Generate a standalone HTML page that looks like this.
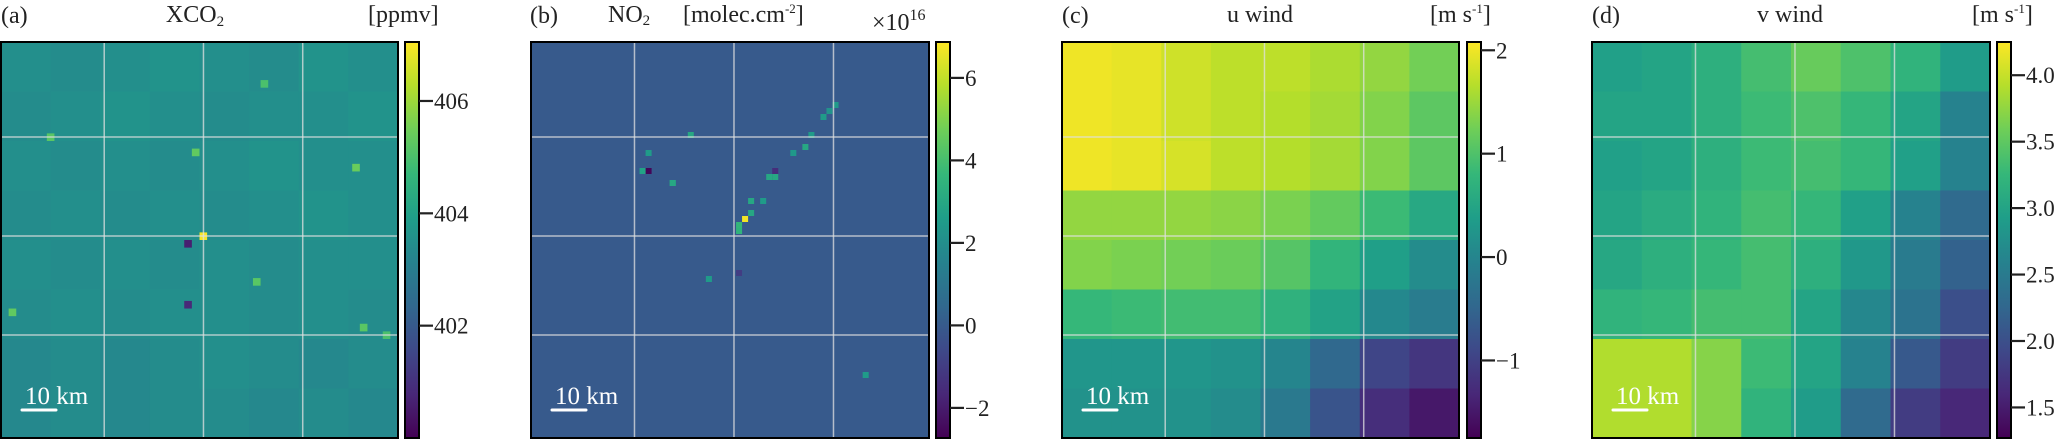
<!DOCTYPE html>
<html><head><meta charset="utf-8">
<style>
html,body{margin:0;padding:0;background:#fff;}
svg{display:block;font-family:"Liberation Serif",serif;}
</style></head>
<body>
<svg id="fig" width="2067" height="440" viewBox="0 0 2067 440" xmlns="http://www.w3.org/2000/svg"></svg>
<script>
// ---------- data ----------
const xco2Blocks = [
 [403.5,403.4,403.5,403.6,403.5,403.4,403.6,403.5],
 [403.4,403.5,403.6,403.5,403.4,403.5,403.5,403.6],
 [403.5,403.4,403.5,403.4,403.5,403.6,403.5,403.5],
 [403.4,403.5,403.4,403.5,403.4,403.5,403.6,403.5],
 [403.5,403.4,403.5,403.4,403.5,403.4,403.5,403.5],
 [403.4,403.5,403.4,403.5,403.5,403.4,403.5,403.4],
 [403.3,403.4,403.3,403.4,403.5,403.4,403.3,403.4],
 [403.3,403.4,403.3,403.4,403.4,403.3,403.4,403.3]
];
const xco2HotRows = [25,14,12,5,26,31,38,34,35,16,37];
const xco2HotCols = [26,25,6,34,24,33,50,24,1,46,47];
const xco2HotVals = [407.0,405.3,405.2,405.0,400.6,405.2,405.0,400.8,405.3,405.4,405.2];
const xco2Range = [400.0, 407.05];
const xco2Ticks = [402, 404, 406];

const no2Background = 0.0;
const no2Rows = [29,31,30,28,26,26,22,22,18,17,15,12,11,10,21,21,23,23,15,39,21,55,18,38];
const no2Cols = [35,34,34,36,36,38,40,39,43,45,46,48,49,50,19,18,23,23,26,29,40,55,19,34];
const no2Vals = [6.7,3.5,3.6,3.0,3.0,2.5,3.0,3.0,2.4,3.0,2.5,2.5,2.2,2.4,-2.6,2.8,3.0,3.0,3.0,2.5,-1.5,2.5,2.5,-1.0];
const no2Range = [-2.73, 6.87];
const no2Ticks = [-2, 0, 2, 4, 6];

const uWind = [
 [2.00,1.95,1.80,1.70,1.70,1.60,1.45,1.25],
 [2.00,1.95,1.80,1.70,1.65,1.55,1.35,1.10],
 [2.00,1.95,1.85,1.70,1.65,1.55,1.35,1.10],
 [1.45,1.45,1.45,1.40,1.30,1.15,0.85,0.55],
 [1.35,1.30,1.25,1.20,1.05,0.75,0.40,0.10],
 [0.80,0.85,0.90,0.90,0.70,0.45,0.05,-0.15],
 [0.25,0.25,0.25,0.20,0.00,-0.45,-0.95,-1.15],
 [0.20,0.20,0.20,0.10,-0.20,-0.75,-1.25,-1.50]
];
const uRange = [-1.75, 2.08];
const uTicks = [-1, 0, 1, 2];

const vWind = [
 [2.95,3.00,3.15,3.35,3.55,3.40,3.20,2.90],
 [3.00,3.00,3.15,3.30,3.40,3.25,3.00,2.60],
 [2.95,3.00,3.15,3.30,3.35,3.25,2.95,2.60],
 [3.00,3.10,3.20,3.35,3.25,2.95,2.60,2.30],
 [3.05,3.15,3.25,3.35,3.15,2.85,2.50,2.20],
 [3.20,3.25,3.35,3.35,3.00,2.65,2.40,2.00],
 [3.90,3.90,3.70,3.30,3.00,2.60,2.10,1.80],
 [3.90,3.90,3.70,3.20,2.90,2.30,1.80,1.60]
];
const vRange = [1.27, 4.25];
const vTicks = [1.5, 2.0, 2.5, 3.0, 3.5, 4.0];

// ---------- helpers ----------
const NS = "http://www.w3.org/2000/svg";
const svg = document.getElementById('fig');
const VIR = ["#440154","#482878","#3e4989","#31688e","#26828e","#1f9e89","#35b779","#6ece58","#b5de2b","#fde725"];
function hex(h){return [parseInt(h.slice(1,3),16),parseInt(h.slice(3,5),16),parseInt(h.slice(5,7),16)];}
function viridis(t){
  t=Math.max(0,Math.min(1,t));
  const p=t*(VIR.length-1), i=Math.min(Math.floor(p),VIR.length-2), f=p-i;
  const a=hex(VIR[i]), b=hex(VIR[i+1]);
  return "rgb("+a.map((v,k)=>Math.round(v+(b[k]-v)*f)).join(",")+")";
}
function el(tag, attrs, parent){
  const e=document.createElementNS(NS,tag);
  for(const k in attrs) e.setAttribute(k,attrs[k]);
  (parent||svg).appendChild(e); return e;
}
const TOP=42, BOT=438;

const defs=el('defs',{});
const lg=el('linearGradient',{id:'vir',x1:0,y1:1,x2:0,y2:0},defs);
VIR.forEach((c,i)=>el('stop',{offset:(i/(VIR.length-1)),'stop-color':c},lg));

function panel(opt){
  const g=el('g',{});
  
  
  const L=opt.x0, R=opt.x1, W=R-L, H=BOT-TOP;
  const color=v=>viridis((v-opt.range[0])/(opt.range[1]-opt.range[0]));
  const xs=(c,n)=>L+c*W/n, ys=(r,n)=>TOP+r*H/n;
  const n=opt.grid.length;
  opt.grid.forEach((row,r)=>row.forEach((v,c)=>{
    const cell=el('rect',{x:xs(c,n),y:ys(r,n),width:W/n+0.6,height:H/n+0.6,fill:color(v)},g);
    
    
  }));
  if(opt.pts){
    const m=opt.pts.n;
    opt.pts.rows.forEach((r,i)=>{
      const cell=el('rect',{x:xs(opt.pts.cols[i],m),y:ys(r,m),width:W/m,height:H/m,fill:color(opt.pts.vals[i])},g);
      
      
    });
  }
  [0.26,0.51,0.76].forEach(f=>{
    const gl=el('line',{x1:L+f*W,x2:L+f*W,y1:TOP,y2:BOT,stroke:'#e0e0e0','stroke-opacity':0.75,'stroke-width':1.5},g);
    
    
  });
  [0.24,0.49,0.74].forEach(f=>{
    const gl=el('line',{x1:L,x2:R,y1:TOP+f*H,y2:TOP+f*H,stroke:'#e0e0e0','stroke-opacity':0.75,'stroke-width':1.5},g);
    
    
  });
  const fr=el('rect',{x:L,y:TOP,width:W,height:H,fill:'none',stroke:'#000','stroke-width':2},g);
  
  
  const sb=el('text',{x:L+24,y:404,fill:'#fff','font-size':25},g);
  sb.textContent='10 km';
  
  
  const sl=el('line',{x1:L+21,x2:L+55,y1:410,y2:410,stroke:'#fff','stroke-width':3,'stroke-linecap':'round'},g);
  
  
  const cb=el('rect',{x:opt.cb,y:TOP,width:14,height:H,fill:'url(#vir)',stroke:'#000','stroke-width':2},g);
  
  
  const cy=v=>BOT-(v-opt.range[0])/(opt.range[1]-opt.range[0])*H;
  opt.ticks.forEach(t=>{
    const y=cy(t);
    const tl=el('line',{x1:opt.cb+14,x2:opt.cb+28,y1:y,y2:y,stroke:'#222','stroke-width':2.2},g);
    
    
    const tx=el('text',{x:opt.cb+29,y:y+8,'font-size':23,fill:'#222'},g);
    tx.textContent=opt.fmt(t);
    
    
  });
  return g;
}
function label(x,y,txt,name,size,anchor){
  const t=el('text',{x:x,y:y,'font-size':size||24,fill:'#222','text-anchor':anchor||'start'});
  t.innerHTML=txt;
  
  
  return t;
}
const neg=v=>(v<0?'\u2212'+Math.abs(v):String(v));

panel({name:'xco2',x0:1,x1:398,cb:405,grid:xco2Blocks,range:xco2Range,ticks:xco2Ticks,fmt:String,
  pts:{n:52,rows:xco2HotRows,cols:xco2HotCols,vals:xco2HotVals}});
panel({name:'no2',x0:531,x1:929,cb:936,grid:[[no2Background]],range:no2Range,ticks:no2Ticks,fmt:neg,
  pts:{n:66,rows:no2Rows,cols:no2Cols,vals:no2Vals}});
panel({name:'u-wind',x0:1062,x1:1459,cb:1467,grid:uWind,range:uRange,ticks:uTicks,fmt:neg});
panel({name:'v-wind',x0:1592,x1:1990,cb:1997,grid:vWind,range:vRange,ticks:vTicks,fmt:v=>v.toFixed(1)});

label(1,23,'(a)','panel-label-a');
label(195,22,'XCO<tspan font-size="15" dy="4">2</tspan>','title-xco2',24,'middle');
label(368,22,'[ppmv]','unit-xco2');
label(530,23,'(b)','panel-label-b');
label(608,22,'NO<tspan font-size="15" dy="3">2</tspan>','title-no2');
label(683,22,'[molec.cm<tspan font-size="13" dy="-9">-2</tspan><tspan dy="9">]</tspan>','unit-no2');
label(872,30,'\u00d710<tspan font-size="16" dy="-10">16</tspan>','colorbar-offset-no2');
label(1062,23,'(c)','panel-label-c');
label(1260,22,'u  wind','title-u-wind',24,'middle');
label(1430,22,'[m s<tspan font-size="13" dy="-9">-1</tspan><tspan dy="9">]</tspan>','unit-u-wind');
label(1592,23,'(d)','panel-label-d');
label(1790,22,'v  wind','title-v-wind',24,'middle');
label(1972,22,'[m s<tspan font-size="13" dy="-9">-1</tspan><tspan dy="9">]</tspan>','unit-v-wind');
</script>
</body></html>
